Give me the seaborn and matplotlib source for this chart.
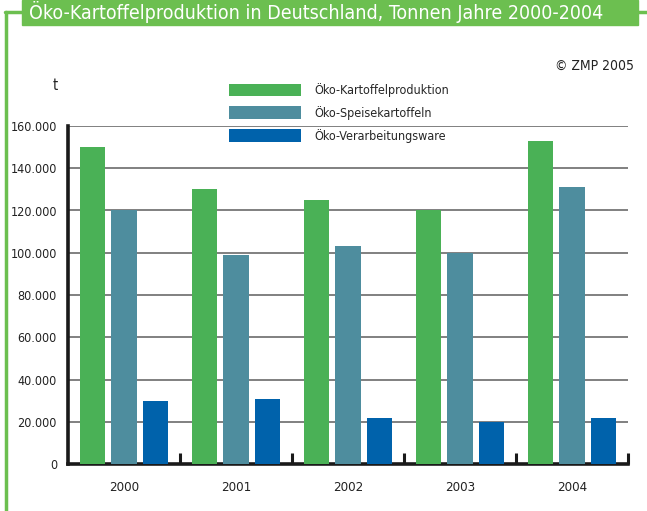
import pandas as pd
import numpy as np
import matplotlib
matplotlib.use("Agg")
import matplotlib.pyplot as plt
from matplotlib import font_manager
from matplotlib.patches import Rectangle
from matplotlib.lines import Line2D
from matplotlib.ticker import FuncFormatter, FixedLocator
import seaborn as sns

# Data (tonnes)
years = ["2000", "2001", "2002", "2003", "2004"]
series = ["Öko-Kartoffelproduktion", "Öko-Speisekartoffeln", "Öko-Verarbeitungsware"]
kartoffel = [150000, 130000, 125000, 120000, 153000]
speise = [120000, 99000, 103000, 100000, 131000]
verarbeitung = [30000, 31000, 22000, 20000, 22000]
colors = ["#4AB156", "#4E8D9E", "#0062AB"]

df = pd.DataFrame({
    "Jahr": years * 3,
    "Serie": [series[0]] * 5 + [series[1]] * 5 + [series[2]] * 5,
    "Tonnen": kartoffel + speise + verarbeitung,
})

sns.set_style("white")

# look for a narrow / condensed font
narrow = None
for f in font_manager.fontManager.ttflist:
    if ("Narrow" in f.name or "Condensed" in f.name or f.stretch in ("condensed", "semi-condensed")) \
            and f.style == "normal" and f.weight in (400, "normal", "regular"):
        narrow = f
        break
if narrow is not None:
    plt.rcParams["font.family"] = [narrow.name, "DejaVu Sans"]
    plt.rcParams["font.stretch"] = narrow.stretch
    base = 10
else:
    plt.rcParams["font.family"] = ["DejaVu Sans"]
    base = 9

fig = plt.figure(figsize=(6.47, 5.11), dpi=100)
ax = fig.add_axes([68 / 647, 47 / 511, 560 / 647, 338 / 511])

sns.barplot(data=df, x="Jahr", y="Tonnen", hue="Serie", palette=colors,
            width=0.844, gap=0.206, ax=ax, saturation=1, linewidth=0, zorder=3)

ax.set_ylim(0, 160000)
ax.set_xlim(-0.5, 4.5)
ax.set_yticks(np.arange(0, 160001, 20000))
ax.yaxis.set_major_formatter(FuncFormatter(lambda v, p: f"{int(v):,}".replace(",", ".")))
ax.grid(axis="y", color="#808080", linewidth=1.4, zorder=0)
ax.set_axisbelow(True)
ax.set_xlabel("")
ax.set_ylabel("")

for s in ["top", "right"]:
    ax.spines[s].set_visible(False)
for s in ["left", "bottom"]:
    ax.spines[s].set_color("#1a1a1a")
    ax.spines[s].set_linewidth(2.6)

ax.tick_params(axis="y", length=0, pad=8, labelsize=base - 1, labelcolor="#222222")
ax.tick_params(axis="x", which="major", length=0, pad=12, labelsize=base - 0.5, labelcolor="#222222")
# small upward ticks between the year groups
ax.xaxis.set_minor_locator(FixedLocator([0.5, 1.5, 2.5, 3.5, 4.5]))
ax.tick_params(axis="x", which="minor", bottom=True, direction="in", length=8, width=2.2, color="#1a1a1a")

ax.legend(loc="upper left", bbox_to_anchor=(218 / 647, 1 - 72 / 511),
          bbox_transform=fig.transFigure, frameon=False, fontsize=base - 1,
          handlelength=5.7, handleheight=1.2, labelspacing=0.7, handletextpad=1.1)

fig.text(55 / 647, 1 - 86 / 511, "t", ha="center", va="center", fontsize=base + 0.5, color="#222222")
fig.text(634 / 647, 1 - 66 / 511, "© ZMP 2005", ha="right", va="center", fontsize=base, color="#222222")

# Frame and title banner
green = "#6CBF50"
fig.add_artist(Line2D([6 / 647, 6 / 647], [0, 1 - 12 / 511], color=green, linewidth=2.5, transform=fig.transFigure))
fig.add_artist(Line2D([5 / 647, 22 / 647], [1 - 12 / 511, 1 - 12 / 511], color=green, linewidth=2.5, transform=fig.transFigure))
fig.add_artist(Line2D([638 / 647, 1], [1 - 12 / 511, 1 - 12 / 511], color=green, linewidth=2.5, transform=fig.transFigure))
fig.add_artist(Rectangle((22 / 647, 1 - 25 / 511), 616 / 647, 25 / 511, color=green, transform=fig.transFigure))
fig.text(316 / 647, 1 - 19 / 511, "Öko-Kartoffelproduktion in Deutschland, Tonnen Jahre 2000-2004",
         ha="center", va="baseline", fontsize=base + 4, color="white")

fig.savefig("out.png", dpi=100)
